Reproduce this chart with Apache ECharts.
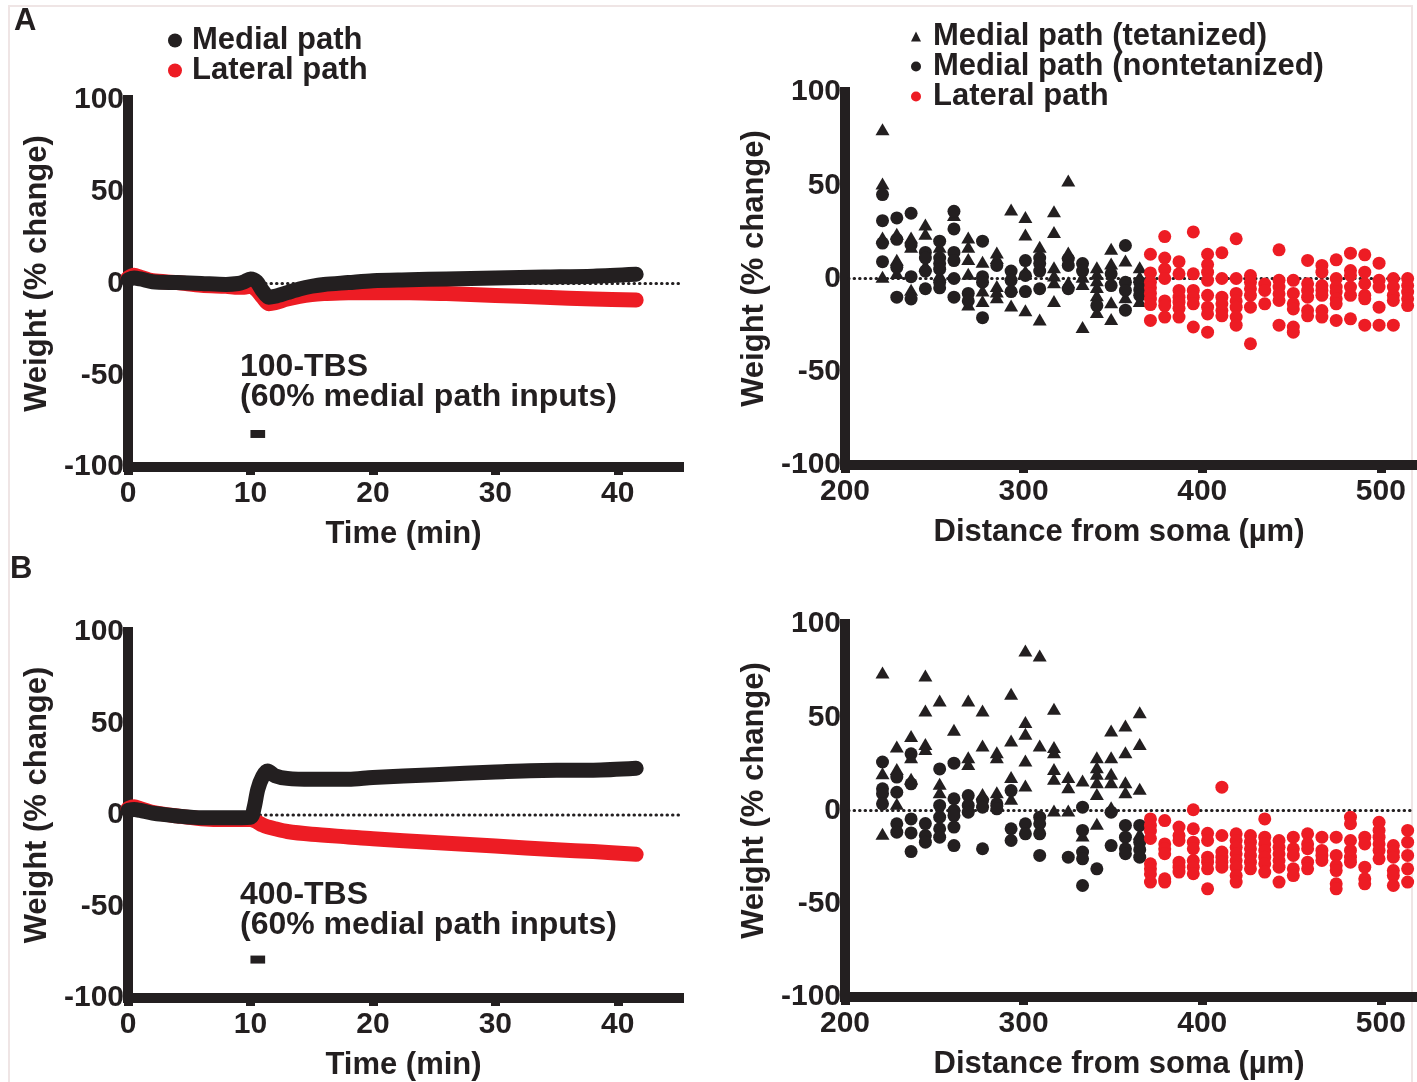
<!DOCTYPE html>
<html>
<head>
<meta charset="utf-8">
<title>Weight change after TBS</title>
<script src="https://cdn.jsdelivr.net/npm/echarts@6/dist/echarts.min.js"></script>
<style>
  html, body { margin: 0; padding: 0; background: #fff; }
  #chart { width: 1417px; height: 1082px; }
</style>
</head>
<body>
<div id="chart"></div>
<script>
// time course (left panels)
const timeA = [0, 0.5, 1, 2, 4, 6, 8, 9, 9.5, 10, 10.5, 11, 11.5, 12, 13, 14, 15, 16, 18, 20, 23, 26, 30, 34, 38, 41.5];
const medialA = [2, 3, 2.5, 1, 0.5, 0, -0.5, 0, 1, 2.5, 1, -4, -7.5, -7, -5, -3, -1.5, -0.5, 0.5, 1.5, 2, 2.5, 3, 3.5, 4, 5];
const lateralA = [3, 4.5, 3.5, 1.5, 0.5, -1, -1.5, -2, -2, -1.5, -3.5, -7.5, -11, -10.5, -8.5, -7, -6, -5.5, -5, -5, -5, -5.5, -6.5, -7.5, -8.5, -9];

const timeB = [0, 0.5, 1, 2, 4, 6, 8, 10, 10.3, 10.6, 11, 11.4, 12, 13, 15, 18, 20, 25, 30, 35, 38, 41.5];
const medialB = [2.5, 3, 2.5, 1, -0.5, -1.5, -1.5, -1.2, 4, 14, 21, 24, 21.5, 20, 19.5, 19.5, 20.5, 22, 23.5, 24.5, 24.5, 25.5];
const lateralB = [3.5, 4.5, 3.5, 1.5, -0.5, -2, -2.5, -2.5, -3, -4, -5.5, -6.5, -7.5, -9, -10.5, -12, -13, -15, -17, -19, -20, -21.5];

// TBS bars
const tbsA = [[10, -82], [11.2, -82]];
const tbsB = [[10, -79], [11.2, -79]];

// distance columns (right panels)
const medCols = [221, 229, 237, 245, 253, 261, 269, 277, 285, 293, 301, 309, 317, 325, 333, 341, 349, 357, 365];
const latCols = [371, 379, 387, 395, 403, 411, 419, 427, 435, 443, 451, 459, 467, 475, 483, 491, 499, 507, 515];

// 100-TBS
const tetA = [[80, 51, 22, 1], [24, 10, 3], [22, 17, -6], [29, 24, 7], [17, 2], [34], [22, 17, 10.5, 2.5, -14], [9, -6.4, -12], [14, 11, -4, -7, -10], [37, -4.6, -14.5], [33, 23.6, 4, -17], [17, -22], [36, 25, 6, 1.6, -2, -12], [52.5, 14, -2], [1, -3, -26], [6, 2.5, -1, -4.6, -9, -18], [16, 8, -12.7, -21.7], [9.6, -10], [6, 1, -12]];
const nonA = [[45, 31, 19, 9], [32.5, 21, 6, -10], [35, 18, 1, -11], [14, 11, 4, -5.5], [20, 11, 8, 5, -2, -5], [36, 26.6, 14, 9.6, 0, -10], [-8, -12], [20, 1, -2, -21], [7], [4, -1, -7], [9.6, 1.6, -7], [11, 8, 4, -5.5], [], [10.5, 7, -5.5], [8, 4], [-14.5], [2.5, -3.8], [17.7, -2, -6.4, -17], [-2, -6, -9]];
const latA = [[13, 3, -2, -5, -8, -11, -14, -22.5], [22.5, 11, 5, 0, -12, -14.5, -20.7], [9, 2.5, -6.4, -10, -12.7, -16, -20.7], [25, 2.5, -6.4, -10, -13.6, -26], [13, 7.5, 3.4, -1, -9, -15.4, -19, -28.8], [13.8, 0, -10, -13.6, -17.2, -20], [21.3, 0, -8, -12, -15.4, -20.7, -25], [1.6, -2, -5.5, -9, -15.4, -35], [-3, -6.4, -13.6], [15.4, -1, -4.6, -8.2, -11.8, -25], [-1, -8, -13.6, -16.3, -26, -28.8], [9.7, -2.8, -6.4, -10, -17.2, -20], [7, 3.4, -3.8, -6.4, -9, -17.2, -20.7], [10, 0, -4.6, -7.3, -10.9, -13.6, -22.5], [13.6, 4.3, 1.6, -4.6, -9, -21.6], [12.7, 3.4, -2.8, -9, -10.9, -25], [8.2, -1, -4.6, -15.4, -25], [0, -4.6, -9, -11.8, -25], [0, -3.8, -7.3, -10.9, -14.5]];

// 400-TBS
const tetB = [[74, 20, -12.5], [34.3, 22.3, 3.6], [40, 28.6, 17], [72.4, 53.6, 35.7, 33], [59, 14.3, 9.8], [43.3], [59, 28.6, 25], [53.6, 34.9, 8.9], [31.3, 28.6, 9.8, 5.4], [62.6, 37.5, 17.9, 6.3], [85.8, 47.4, 41.1, 26.8, 13.4], [83.1, 34.9], [54.5, 34, 31.3, 22.3, 17, 0], [17.9, 12.5, 0], [16.1, -13.4], [28.6, 23.2, 19.7, 15.2, 8.9, -7.1], [42.9, 28.6, 19.7, 15.2, 1.8], [45.6, 31.3, 15.2, 9.8], [52.7, 35.7, 11.6, -12.5]];
const nonB = [[26, 11.6, 9, 3.6], [17.9, 9.8, -7.1, -11.6], [30.4, 14.3, -4.5, -12, -22], [-7, -13.4, -17], [22.3, 2.7, -3.6, -9.8, -14.3], [25.4, 6.3, 0, -2.7, -8.9, -18.8], [8, 2.7, -0.9], [5.4, 1.8, -20.5], [3.6, 0.9], [10.7, -9.8, -16.1], [-7.1, -12.5], [-3.6, -7.1, -12.5, -24.1], [], [-25], [1.8, -10.7, -22.3, -25.9, -40.2], [-31.3], [-0.9, -18.8], [-8, -14.3, -20.5, -23.2], [-8, -17, -21, -25]];
const latB = [[-4.5, -8, -11, -15, -28.6, -31.3, -34, -38.4], [-5.4, -17.9, -20.5, -23.2, -36.6, -38.4], [-8.9, -13.4, -16.1, -27.7, -30.4, -33], [0.4, -9.8, -17, -20.5, -26.8, -30.4, -33.9], [-12.2, -16.1, -25, -27.7, -31.3, -42], [12.5, -13.4, -22.3, -25, -27.7, -30.4], [-12.5, -16.1, -19.7, -23.2, -26.8, -30.4, -34.9, -38.4], [-13.4, -17, -20.5, -24.1, -27.7, -31.3], [-4.5, -14.3, -17.9, -21.4, -25, -28.6, -33], [-16.1, -19.7, -23.2, -26.8, -30.4, -38.4], [-14.3, -20.5, -24.1, -31.3, -34.9], [-12.5, -17.9, -20.5, -27.7, -31.3], [-14.3, -21.4, -24.1, -26.8], [-14.3, -24.1, -29.5, -32.2, -39.3, -42], [-3.6, -7.1, -16.1, -21.4, -25, -27.7], [-14.3, -17.9, -30.4, -36.6, -39.3], [-6.3, -10.7, -14.3, -17.9, -21.4, -25.9], [-18.8, -22.3, -25, -32.2, -34.9, -40.2], [-10.7, -17, -24.1, -31.3, -38.4]];

const INK = '#231f20';
const RED = '#ed1c24';
const FONT = '"Liberation Sans", Arial, sans-serif';

const zip = (xs, ys) => xs.map((x, i) => [x, ys[i]]);
const toPts = (cols, vals) => cols.flatMap((c, i) => vals[i].map(v => [c, v]));

const txt = (size) => ({ fontSize: size, fontWeight: 'bold', color: INK, fontFamily: FONT });
const axisLine = { onZero: false, lineStyle: { color: INK, width: 10, cap: 'square' } };

function timeAxis(gi) {
    return {
        gridIndex: gi, type: 'value', min: 0, max: 45, interval: 10,
        name: 'Time (min)', nameLocation: 'middle', nameGap: 52, nameTextStyle: txt(31),
        axisLine: axisLine, splitLine: { show: false },
        axisTick: { show: true, length: 8, lineStyle: { color: INK, width: 9 } },
        axisLabel: Object.assign(txt(30), { margin: 12, showMaxLabel: false })
    };
}
function distAxis(gi) {
    return {
        gridIndex: gi, type: 'value', min: 200, max: 518, interval: 100,
        name: 'Distance from soma (\u00b5m)', nameLocation: 'middle', nameGap: 52,
        nameTextStyle: Object.assign(txt(31), { padding: [0, 20, 0, 0] }),
        axisLine: axisLine, splitLine: { show: false },
        axisTick: { show: true, length: 8, lineStyle: { color: INK, width: 9 } },
        axisLabel: Object.assign(txt(30), { margin: 12, showMaxLabel: false })
    };
}
function weightAxis(gi) {
    return {
        gridIndex: gi, type: 'value', min: -100, max: 100, interval: 50,
        name: 'Weight (% change)', nameLocation: 'middle', nameGap: 75,
        nameTextStyle: Object.assign(txt(31), { padding: [0, 0, 0, 20] }),
        axisLine: axisLine, splitLine: { show: false }, axisTick: { show: false },
        axisLabel: Object.assign(txt(30), { margin: 4 })
    };
}

const dotted = { color: INK, width: 3, type: [0.5, 5], cap: 'round' };
function zeroLine(ax, x0, x1) {
    return { type: 'line', xAxisIndex: ax, yAxisIndex: ax, data: [[x0, 0], [x1, 0]], symbol: 'none', silent: true, lineStyle: dotted, z: 1 };
}
function pathLine(ax, name, color, data) {
    return {
        type: 'line', name: name, xAxisIndex: ax, yAxisIndex: ax, data: data, smooth: 0.3,
        symbol: 'none', silent: true, itemStyle: { color: color },
        lineStyle: { color: color, width: 15, cap: 'round', join: 'round' }, z: 2
    };
}
function bar(ax, data) {
    return { type: 'line', xAxisIndex: ax, yAxisIndex: ax, data: data, symbol: 'none', silent: true, lineStyle: { color: INK, width: 8 }, z: 2 };
}
function dots(ax, name, symbol, size, color, data) {
    return { type: 'scatter', name: name, xAxisIndex: ax, yAxisIndex: ax, data: data, symbol: symbol, symbolSize: size, itemStyle: { color: color, opacity: 1 }, silent: true, z: 3 };
}

const legendText = Object.assign(txt(31), { lineHeight: 30 });

const chart = echarts.init(document.getElementById('chart'));
chart.setOption({
    backgroundColor: '#fff',
    animation: false,
    grid: [
        { left: 128, top: 100, width: 551, height: 367 },
        { left: 845, top: 92, width: 568, height: 373 },
        { left: 128, top: 632, width: 551, height: 368 },
        { left: 845, top: 624, width: 568, height: 373 }
    ],
    xAxis: [timeAxis(0), distAxis(1), timeAxis(2), distAxis(3)],
    yAxis: [weightAxis(0), weightAxis(1), weightAxis(2), weightAxis(3)],
    legend: [
        {
            left: 163, top: 20, orient: 'vertical', itemWidth: 14, itemHeight: 14, itemGap: -1, selectedMode: false,
            data: [{ name: 'Medial path', icon: 'circle' }, { name: 'Lateral path', icon: 'circle' }],
            textStyle: Object.assign({}, legendText, { padding: [0, 0, 0, 5] })
        },
        {
            left: 906, top: 16, orient: 'vertical', itemWidth: 10, itemHeight: 10, itemGap: -1, selectedMode: false,
            data: [
                { name: 'Medial path (tetanized)', icon: 'triangle' },
                { name: 'Medial path (nontetanized)', icon: 'circle' },
                { name: 'Lateral path', icon: 'circle' }
            ],
            textStyle: Object.assign({}, legendText, { padding: [0, 0, 0, 7] })
        }
    ],
    series: [
        zeroLine(0, 0, 45),
        pathLine(0, 'Lateral path', RED, zip(timeA, lateralA)),
        pathLine(0, 'Medial path', INK, zip(timeA, medialA)),
        bar(0, tbsA),

        zeroLine(1, 202, 518),
        dots(1, 'Medial path (tetanized)', 'triangle', [14, 12], INK, toPts(medCols, tetA)),
        dots(1, 'Medial path (nontetanized)', 'circle', 13, INK, toPts(medCols, nonA)),
        dots(1, 'Lateral path', 'circle', 13, RED, toPts(latCols, latA)),

        zeroLine(2, 0, 45),
        pathLine(2, 'Lateral path', RED, zip(timeB, lateralB)),
        pathLine(2, 'Medial path', INK, zip(timeB, medialB)),
        bar(2, tbsB),

        zeroLine(3, 202, 518),
        dots(3, 'Medial path (tetanized)', 'triangle', [14, 12], INK, toPts(medCols, tetB)),
        dots(3, 'Medial path (nontetanized)', 'circle', 13, INK, toPts(medCols, nonB)),
        dots(3, 'Lateral path', 'circle', 13, RED, toPts(latCols, latB))
    ],
    graphic: [
        { type: 'rect', shape: { x: 9, y: 6, width: 1403, height: 1090 }, style: { fill: 'none', stroke: '#efe5e5', lineWidth: 2 }, silent: true },
        { type: 'text', x: 14, y: 21, style: { text: 'A', font: 'bold 31px ' + FONT, fill: INK, verticalAlign: 'middle' } },
        { type: 'text', x: 10, y: 569, style: { text: 'B', font: 'bold 31px ' + FONT, fill: INK, verticalAlign: 'middle' } },
        { type: 'text', x: 240, y: 367, style: { text: '100-TBS', font: 'bold 32px ' + FONT, fill: INK, verticalAlign: 'middle' } },
        { type: 'text', x: 240, y: 397, style: { text: '(60% medial path inputs)', font: 'bold 32px ' + FONT, fill: INK, verticalAlign: 'middle' } },
        { type: 'text', x: 240, y: 895, style: { text: '400-TBS', font: 'bold 32px ' + FONT, fill: INK, verticalAlign: 'middle' } },
        { type: 'text', x: 240, y: 925, style: { text: '(60% medial path inputs)', font: 'bold 32px ' + FONT, fill: INK, verticalAlign: 'middle' } }
    ]
});
</script>
</body>
</html>
